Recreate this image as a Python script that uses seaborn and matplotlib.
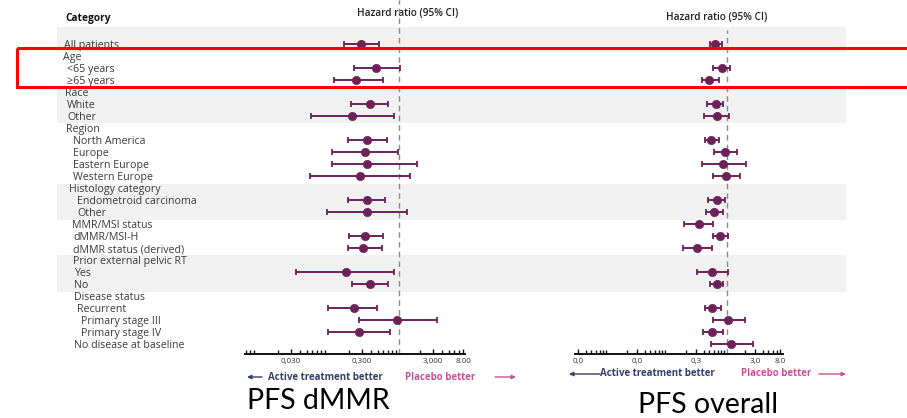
import numpy as np
import pandas as pd
import matplotlib
matplotlib.use("Agg")
import matplotlib.pyplot as plt
from matplotlib.patches import Rectangle
from matplotlib.ticker import LogLocator
import seaborn as sns

# Subgroup rows (top to bottom); headers have no estimate
categories = [
    "All patients", "Age", "<65 years", "≥65 years", "Race", "White", "Other",
    "Region", "North America", "Europe", "Eastern Europe", "Western Europe",
    "Histology category", "Endometroid carcinoma", "Other",
    "MMR/MSI status", "dMMR/MSI-H", "dMMR status (derived)",
    "Prior external pelvic RT", "Yes", "No",
    "Disease status", "Recurrent", "Primary stage III", "Primary stage IV",
    "No disease at baseline",
]
nan = np.nan

# PFS dMMR population: hazard ratio and 95% CI
dmmr_hr = [0.29, nan, 0.47, 0.25, nan, 0.39, 0.22, nan, 0.35, 0.33, 0.35, 0.28,
           nan, 0.35, 0.35, nan, 0.335, 0.31, nan, 0.18, 0.39, nan, 0.23, 0.93, 0.27, nan]
dmmr_lo = [0.17, nan, 0.23, 0.12, nan, 0.21, 0.057, nan, 0.19, 0.115, 0.115, 0.055,
           nan, 0.19, 0.098, nan, 0.20, 0.19, nan, 0.036, 0.22, nan, 0.10, 0.27, 0.10, nan]
dmmr_hi = [0.52, nan, 1.03, 0.60, nan, 0.70, 0.86, nan, 0.68, 0.96, 1.81, 1.44,
           nan, 0.635, 1.28, nan, 0.59, 0.57, nan, 0.86, 0.70, nan, 0.485, 3.46, 0.75, nan]

# PFS overall population: hazard ratio and 95% CI
overall_hr = [0.63, nan, 0.81, 0.50, nan, 0.64, 0.69, nan, 0.54, 0.94, 0.85, 0.96,
              nan, 0.67, 0.61, 0.33, 0.77, 0.31, nan, 0.55, 0.67, nan, 0.56, 1.05, 0.56, 1.17]
overall_lo = [0.515, nan, 0.57, 0.37, nan, 0.45, 0.41, nan, 0.42, 0.61, 0.37, 0.59,
              nan, 0.47, 0.435, 0.19, 0.59, 0.18, nan, 0.31, 0.515, nan, 0.42, 0.57, 0.39, 0.53]
overall_hi = [0.83, nan, 1.12, 0.73, nan, 0.86, 1.09, nan, 0.74, 1.50, 2.10, 1.66,
              nan, 0.93, 0.865, 0.59, 1.05, 0.56, nan, 1.03, 0.865, nan, 0.79, 2.02, 0.865, 2.73]

left_ticks = [0.03, 0.3, 3, 8]
left_ticklabels = ["0,030", "0,300", "3,000", "8.00"]
right_ticks = [0.003, 0.03, 0.3, 3, 8]
right_ticklabels = ["0,0", "0,0", "0,3", "3,0", "8.0"]

sns.set_style("white")
plt.rcParams["font.family"] = ["Open Sans", "DejaVu Sans"]

W, H = 907, 418
fig = plt.figure(figsize=(W / 100, H / 100), dpi=100)

# pixel-space background axis for labels, bands and annotations
bg = fig.add_axes([0, 0, 1, 1], zorder=0)
bg.set_xlim(0, W)
bg.set_ylim(H, 0)
bg.axis("off")

ROW0, STEP = 44, 12
def row_px(i):
    return ROW0 + STEP * i

# shaded group bands
for y0, y1 in [(27, 52), (88, 123), (184, 219.5), (255, 291.5)]:
    bg.add_patch(Rectangle((57, y0), 846 - 57, y1 - y0, color="#f1f1f1", lw=0))

# row labels
label_x = [64, 63, 67, 67, 65, 67, 67, 66, 73, 73, 73, 73, 69, 77, 77,
           72, 73, 73, 73, 74, 74, 74, 77, 81, 81, 74]
for i, lab in enumerate(categories):
    bg.text(label_x[i], row_px(i) + 1.5, lab, fontsize=7.7, color="#3a3a3a",
            va="center", ha="left")
bg.text(65, 18, "Category", fontsize=7.3, fontweight="bold", color="#111111",
        va="center", ha="left")

purple = "#6d2159"
navy = "#37406b"
pink = "#c2559a"


def forest(x0, x1, one_px, decade, hr, lo, hi, ticks, ticklabels, dash_top):
    ax = fig.add_axes([x0 / W, (H - 354) / H, (x1 - x0) / W, 354 / H], zorder=2)
    ax.set_facecolor("none")
    ax.set_xscale("log")
    df = pd.DataFrame({"row": np.arange(len(categories)), "hr": hr, "lo": lo, "hi": hi}).dropna()
    ax.errorbar(df["hr"], df["row"], xerr=[df["hr"] - df["lo"], df["hi"] - df["hr"]],
                fmt="none", ecolor=purple, elinewidth=1.4, capsize=2.3, capthick=1.3, zorder=3)
    sns.scatterplot(data=df, x="hr", y="row", ax=ax, color=purple, edgecolor=purple,
                    s=36, zorder=4, legend=False)
    ax.axvline(1, ymax=(354 - dash_top) / 354, color="#8a8a8a", lw=1, ls=(0, (4, 3)), zorder=1)
    ax.set_xlim(10 ** ((x0 - one_px) / decade), 10 ** ((x1 - one_px) / decade))
    ax.set_ylim((354 - ROW0) / STEP, (0 - ROW0) / STEP)
    for s in ["top", "left", "right"]:
        ax.spines[s].set_visible(False)
    ax.spines["bottom"].set_linewidth(1.4)
    ax.spines["bottom"].set_color("#111111")
    ax.set_yticks([])
    ax.set_xticks(ticks)
    ax.set_xticklabels(ticklabels)
    ax.xaxis.set_minor_locator(LogLocator(base=10, subs=np.arange(2, 10), numticks=20))
    ax.tick_params(axis="x", which="major", bottom=True, length=3.5, width=1, pad=3,
                   labelsize=5.8, labelcolor="#333333", direction="in", color="#111111")
    ax.tick_params(axis="x", which="minor", bottom=True, length=2.8, width=1,
                   direction="in", color="#111111")
    ax.set_xlabel("")
    ax.set_ylabel("")
    return ax


forest(245, 465, 399, 71, dmmr_hr, dmmr_lo, dmmr_hi, left_ticks, left_ticklabels, 0)
forest(575, 783, 727, 59, overall_hr, overall_lo, overall_hi, right_ticks, right_ticklabels, 30)

bg.text(408, 14, "Hazard ratio (95% CI)", fontsize=7.2, fontweight="semibold",
        color="#222222", ha="center", va="center")
bg.text(717, 18, "Hazard ratio (95% CI)", fontsize=7.2, fontweight="semibold",
        color="#222222", ha="center", va="center")

# direction annotations
def arrow(xa, xb, y, c):
    bg.annotate("", xy=(xb, y), xytext=(xa, y),
                arrowprops=dict(arrowstyle="-|>", color=c, lw=1, mutation_scale=6,
                                shrinkA=0, shrinkB=0))

arrow(262, 247, 377, navy)
bg.text(268, 377, "Active treatment better", fontsize=7, fontweight="bold",
        color=navy, ha="left", va="center")
bg.text(405, 377, "Placebo better", fontsize=7, fontweight="bold",
        color=pink, ha="left", va="center")
arrow(495, 516, 377, pink)

arrow(600, 569, 374, navy)
bg.text(600, 374, "Active treatment better", fontsize=7, fontweight="bold",
        color=navy, ha="left", va="center")
bg.text(741, 374, "Placebo better", fontsize=7, fontweight="bold",
        color=pink, ha="left", va="center")
arrow(819, 846, 374, pink)

bg.text(247, 401, "PFS dMMR", fontsize=20.5, family="Lato", color="black",
        ha="left", va="center")
bg.text(638, 405, "PFS overall", fontsize=20.5, family="Lato", color="black",
        ha="left", va="center")

# red highlight box on top
top = fig.add_axes([0, 0, 1, 1], zorder=10)
top.set_xlim(0, W)
top.set_ylim(H, 0)
top.axis("off")
top.add_patch(Rectangle((16.7, 47.7), 920, 39.3, fill=False, ec="#ff0000", lw=2.2))

fig.savefig("out.png", dpi=100)
